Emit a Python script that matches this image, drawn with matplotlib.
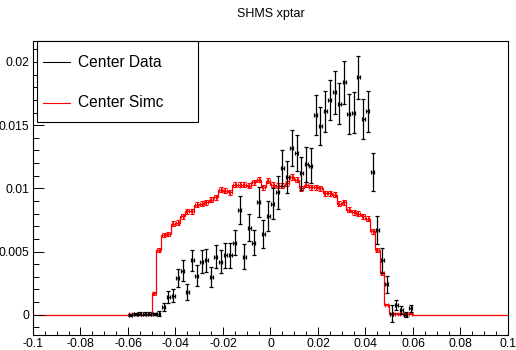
import numpy as np
import matplotlib
matplotlib.use("Agg")
import matplotlib.pyplot as plt
from matplotlib.patches import Rectangle
from matplotlib.lines import Line2D

plt.rcParams["font.family"] = ["Liberation Sans", "DejaVu Sans"]
plt.rcParams["axes.unicode_minus"] = False

# histogram binning: 100 bins from -0.1 to 0.1, filled bins are -0.06..0.06
x_lo, x_hi, n_bins = -0.1, 0.1, 100
first_filled = 20

data_y = [
    0.0000, 0.00005, 0.0001, 0.0001, 0.0001, 0.00005, 0.0001,
    0.0006, 0.0014, 0.0015, 0.0029, 0.0035, 0.0018, 0.0043, 0.0031,
    0.0042, 0.0043, 0.0030, 0.0046, 0.0042, 0.0047, 0.0047, 0.0057,
    0.0083, 0.0046, 0.0069, 0.0057, 0.0089, 0.0064, 0.0078,
    0.0088, 0.0097, 0.0116, 0.0109, 0.0132, 0.0128, 0.0112, 0.0119, 0.0118,
    0.0158, 0.0149, 0.0161, 0.0170, 0.0176, 0.0167, 0.0184, 0.0159, 0.0160, 0.0188,
    0.0155, 0.0161, 0.0113, 0.0067, 0.0043, 0.0024, 0.0001, 0.0008, 0.0004, 0.0000, 0.0005,
]
data_err = [
    0.0001, 0.0001, 0.0001, 0.0001, 0.0001, 0.0001, 0.0002,
    0.0003, 0.0005, 0.0005, 0.0007, 0.0008, 0.0006, 0.0008, 0.0008,
    0.0009, 0.0009, 0.0008, 0.0009, 0.0009, 0.0010, 0.0010, 0.0010,
    0.0011, 0.0010, 0.0011, 0.0010, 0.0012, 0.0011, 0.0012,
    0.0012, 0.0013, 0.0014, 0.0013, 0.0014, 0.0014, 0.0013, 0.0014, 0.0014,
    0.0016, 0.0015, 0.0016, 0.0016, 0.0017, 0.0016, 0.0017, 0.0016, 0.0016, 0.0017,
    0.0016, 0.0016, 0.0015, 0.0011, 0.0010, 0.0007, 0.0007, 0.0004, 0.0003, 0.0002, 0.0003,
]
sim_y = [
    0.00005, 0.00005, 0.00005, 0.00005, 0.00005,
    0.0017, 0.0051, 0.0063, 0.0064, 0.0072, 0.0073, 0.0078, 0.0082, 0.0082, 0.0087,
    0.0088, 0.0089, 0.0091, 0.0093, 0.0099, 0.0098, 0.0097, 0.0103, 0.0103, 0.0103,
    0.0102, 0.0105, 0.0107, 0.0101, 0.0106, 0.0103, 0.0102, 0.0102, 0.0104, 0.0109,
    0.0107, 0.0100, 0.0103, 0.0101, 0.0101, 0.0100, 0.0096, 0.0096, 0.0095, 0.0088,
    0.0089, 0.0083, 0.0081, 0.0080, 0.0078, 0.0076, 0.0066, 0.0051, 0.0033, 0.0008,
    0.0001, 0.0001, 0.0001, 0.0001, 0.0001,
]
sim_err = [
    0.00005, 0.00005, 0.00005, 0.00005, 0.00005,
    0.0001, 0.00015, 0.00017, 0.00017, 0.00018, 0.00018, 0.00019, 0.0002, 0.0002, 0.0002,
    0.0002, 0.0002, 0.0002, 0.0002, 0.0002, 0.0002, 0.0002, 0.0002, 0.0002, 0.0002,
    0.0002, 0.0002, 0.0002, 0.0002, 0.0002, 0.0002, 0.0002, 0.0002, 0.0002, 0.0002,
    0.0002, 0.0002, 0.0002, 0.0002, 0.0002, 0.0002, 0.0002, 0.0002, 0.0002, 0.0002,
    0.0002, 0.0002, 0.00019, 0.00019, 0.00019, 0.00018, 0.00017, 0.00015, 0.00012, 0.00006,
    0.00005, 0.00005, 0.00005, 0.00005, 0.00005,
]

edges = np.linspace(x_lo, x_hi, n_bins + 1)
centers = 0.5 * (edges[:-1] + edges[1:])
x = centers[first_filled:first_filled + len(data_y)]
sim_full = np.zeros(n_bins)
sim_full[first_filled:first_filled + len(sim_y)] = sim_y

W, H = 516, 350
fig = plt.figure(figsize=(W / 100, H / 100), dpi=100)
ax = fig.add_axes([33 / W, 15 / H, 475 / W, 294 / H])

ax.stairs(sim_full, edges, color="red", lw=0.9, baseline=None)
ax.errorbar(x, sim_y, yerr=sim_err, xerr=0.0006, fmt="none", ecolor="red",
            elinewidth=0.8, capsize=1.3, capthick=0.8)
ax.errorbar(x, data_y, yerr=data_err, xerr=0.0006, fmt="none", ecolor="black",
            elinewidth=0.9, capsize=1.3, capthick=0.9)

ax.set_xlim(x_lo, x_hi)
ax.set_ylim(-0.0016, 0.02166)
ax.set_xticks(np.arange(-0.1, 0.1001, 0.02))
ax.set_xticklabels(["-0.1", "-0.08", "-0.06", "-0.04", "-0.02", "0",
                    "0.02", "0.04", "0.06", "0.08", "0.1"])
ax.set_xticks(np.arange(-0.1, 0.1001, 0.005), minor=True)
ax.set_yticks([0, 0.005, 0.01, 0.015, 0.02])
ax.set_yticklabels(["0", "0.005", "0.01", "0.015", "0.02"])
ax.set_yticks(np.arange(-0.001, 0.0216, 0.001), minor=True)
ax.tick_params(axis="both", which="both", direction="in", labelsize=8.8,
               top=False, right=False, width=0.7)
ax.tick_params(axis="x", which="major", length=6, pad=2.5)
ax.tick_params(axis="x", which="minor", length=3.2)
ax.tick_params(axis="y", which="major", length=8, pad=2.5)
ax.tick_params(axis="y", which="minor", length=4)
for s in ax.spines.values():
    s.set_linewidth(0.8)

fig.text((33 + 508) / 2 / W, 1 - 14 / H, "SHMS xptar", ha="center", va="center",
         fontsize=9)

# legend box
fig.add_artist(Rectangle((36.7 / W, 1 - 121.7 / H), 161.6 / W, 80.7 / H,
                         transform=fig.transFigure, facecolor="white",
                         edgecolor="black", lw=0.8, zorder=5))
for ypx, col, lab in [(62.3, "black", "Center Data"), (102.7, "red", "Center Simc")]:
    fig.add_artist(Line2D([43 / W, 70 / W], [1 - ypx / H] * 2, color=col, lw=0.8,
                          transform=fig.transFigure, zorder=6))
    fig.text(77.7 / W, 1 - ypx / H, lab, ha="left", va="center", fontsize=11.2,
             zorder=6)

fig.savefig("out.png", dpi=100)
